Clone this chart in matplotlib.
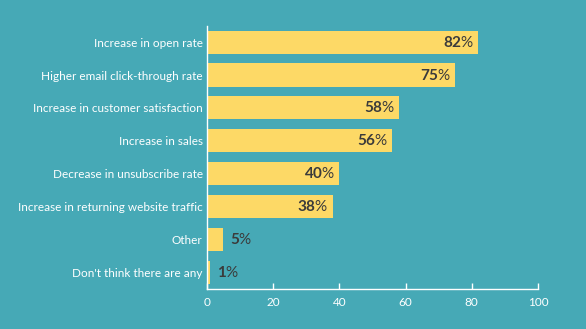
import matplotlib.pyplot as plt

categories = ["Increase in open rate", "Higher email click-through rate",
              "Increase in customer satisfaction", "Increase in sales",
              "Decrease in unsubscribe rate", "Increase in returning website traffic",
              "Other", "Don't think there are any"]
values = [82, 75, 58, 56, 40, 38, 5, 1]
xticks = [0, 20, 40, 60, 80, 100]

bg = "#46a9b6"
bar_color = "#fdd966"
label_color = "#3b3b3b"

plt.rcParams['font.family'] = ['Lato', 'DejaVu Sans']
plt.rcParams['mathtext.fontset'] = 'custom'
plt.rcParams['mathtext.bf'] = 'Lato:bold'
plt.rcParams['mathtext.rm'] = 'Lato'

fig = plt.figure(figsize=(5.86, 3.29), dpi=100, facecolor=bg)
ax = fig.add_axes([0.353, 0.122, 0.565, 0.80])
ax.set_facecolor(bg)

y = list(range(len(categories)))
ax.barh(y, values, height=0.7, color=bar_color, zorder=2)

# number in bold, percent sign in regular weight
for i, v in enumerate(values):
    txt = r"$\mathbf{%d}$%%" % v
    if v >= 20:
        ax.annotate(txt, xy=(v, i), xytext=(-3, 0), textcoords='offset points',
                    ha='right', va='center', fontsize=11, color=label_color)
    else:
        ax.annotate(txt, xy=(v, i), xytext=(5, 0), textcoords='offset points',
                    ha='left', va='center', fontsize=11, color=label_color)

ax.set_ylim(7.5, -0.5)
ax.set_xlim(0, 100)
ax.set_yticks(y)
ax.set_yticklabels(categories, fontsize=8.5, color='white')
ax.set_xticks(xticks)
ax.set_xticklabels([str(t) for t in xticks], fontsize=8.5, color='white')
ax.tick_params(axis='y', length=0, pad=3)
ax.tick_params(axis='x', direction='in', length=4, width=1, color='white', pad=6)

for side in ['top', 'right']:
    ax.spines[side].set_visible(False)
for side in ['left', 'bottom']:
    ax.spines[side].set_color('white')
    ax.spines[side].set_linewidth(1)

fig.savefig('out.png', dpi=100, facecolor=bg)
